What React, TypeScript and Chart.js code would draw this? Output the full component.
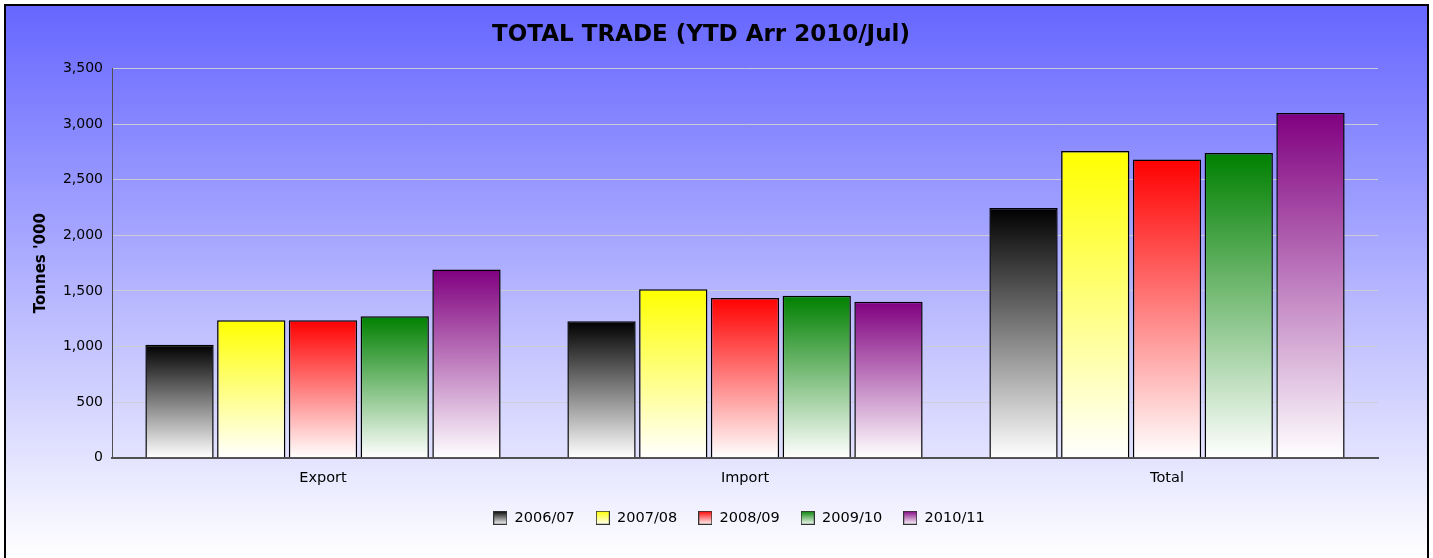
import React, { useEffect, useRef } from 'react';
import { Chart, registerables } from 'chart.js';

Chart.register(...registerables);

const categories = ['Export', 'Import', 'Total'];
const seriesLabels = ['2006/07', '2007/08', '2008/09', '2009/10', '2010/11'];
const values0607 = [1017, 1227, 2246];
const values0708 = [1236, 1515, 2758];
const values0809 = [1236, 1437, 2682];
const values0910 = [1272, 1458, 2740];
const values1011 = [1693, 1404, 3100];
const seriesValues = [values0607, values0708, values0809, values0910, values1011];
const seriesColors = ['#000000', '#ffff00', '#ff0000', '#008000', '#800080'];
const yMin = 0;
const yMax = 3500;
const yStep = 500;
const titleText = 'TOTAL TRADE (YTD Arr 2010/Jul)';
const yTitleText = "Tonnes '000";

const FONT = "'DejaVu Sans', Verdana, sans-serif";

const backgroundPlugin = {
  id: 'pageBackground',
  beforeDraw(chart: any) {
    const { ctx, width, height } = chart;
    ctx.save();
    ctx.fillStyle = '#ffffff';
    ctx.fillRect(0, 0, width, height);
    const g = ctx.createLinearGradient(0, 6, 0, height);
    g.addColorStop(0, '#6666ff');
    g.addColorStop(1, '#ffffff');
    ctx.fillStyle = g;
    ctx.fillRect(6, 6, width - 12, height - 6);
    ctx.strokeStyle = '#000000';
    ctx.lineWidth = 2;
    ctx.strokeRect(5, 5, width - 10, height + 10);
    ctx.restore();
  },
};

// the reference's legend sits a little right of the chart's centre
const legendShiftPlugin = {
  id: 'legendShift',
  afterLayout(chart: any) {
    const lg = chart.legend;
    if (lg) {
      lg.left += 38;
      lg.right += 38;
    }
  },
};

function makeLegendIcon(color: string): HTMLCanvasElement {
  const c = document.createElement('canvas');
  c.width = 14;
  c.height = 14;
  const x = c.getContext('2d')!;
  const g = x.createLinearGradient(0, 0, 0, 14);
  g.addColorStop(0, color);
  g.addColorStop(1, '#ffffff');
  x.fillStyle = g;
  x.fillRect(0, 0, 14, 14);
  x.strokeStyle = '#333333';
  x.lineWidth = 1;
  x.strokeRect(0.5, 0.5, 13, 13);
  return c;
}

export default function App() {
  const canvasRef = useRef<HTMLCanvasElement | null>(null);

  useEffect(() => {
    if (!canvasRef.current) return;
    const icons = seriesColors.map(makeLegendIcon);

    const datasets = seriesLabels.map((label, i) => {
      const color = seriesColors[i];
      return {
        label,
        data: seriesValues[i],
        borderColor: '#000000',
        borderWidth: 1.5,
        categoryPercentage: 0.85,
        barPercentage: 0.952,
        backgroundColor: (ctx: any) => {
          const chart = ctx.chart;
          const yScale = chart.scales?.y;
          if (!chart.chartArea || !yScale || ctx.type !== 'data') return color;
          const v = ctx.parsed ? ctx.parsed.y : ctx.raw;
          const top = yScale.getPixelForValue(v);
          const bottom = yScale.getPixelForValue(0);
          if (!isFinite(top) || !isFinite(bottom) || top === bottom) return color;
          const g = chart.ctx.createLinearGradient(0, top, 0, bottom);
          g.addColorStop(0, color);
          g.addColorStop(1, '#ffffff');
          return g;
        },
      };
    });

    const chart = new Chart(canvasRef.current, {
      type: 'bar',
      data: { labels: categories, datasets },
      plugins: [backgroundPlugin, legendShiftPlugin],
      options: {
        responsive: false,
        maintainAspectRatio: false,
        animation: false,
        devicePixelRatio: 1,
        layout: { padding: { top: 8, left: 24, right: 55, bottom: 23 } },
        plugins: {
          tooltip: { enabled: false },
          title: {
            display: true,
            text: titleText,
            color: '#000000',
            font: { family: FONT, size: 23, weight: 'bold' },
            padding: { top: 13, bottom: 20 },
          },
          legend: {
            position: 'bottom',
            labels: {
              color: '#000000',
              font: { family: FONT, size: 14.5 },
              padding: 21,
              boxWidth: 14,
              boxHeight: 14,
              usePointStyle: true,
              generateLabels: (chart: any) => {
                const base = (Chart.defaults.plugins.legend.labels as any).generateLabels(chart);
                return base.map((item: any) => ({ ...item, pointStyle: icons[item.datasetIndex] }));
              },
            },
          },
        },
        scales: {
          x: {
            grid: { display: false, drawTicks: false },
            border: { display: true, color: '#505050', width: 2 },
            ticks: { color: '#000000', font: { family: FONT, size: 14.5 }, padding: 12 },
            afterFit: (s: any) => {
              s.height = 31.7;
            },
          },
          y: {
            min: yMin,
            max: yMax,
            ticks: {
              stepSize: yStep,
              color: '#000000',
              font: { family: FONT, size: 14 },
              padding: 9,
              callback: (v: any) => Number(v).toLocaleString('en-US'),
            },
            grid: { color: 'rgba(205,205,215,0.95)', drawTicks: false, lineWidth: 1 },
            border: { display: true, color: '#505050', width: 1 },
            title: {
              display: true,
              text: yTitleText,
              color: '#000000',
              font: { family: FONT, size: 15, weight: 'bold' },
              padding: { top: 8, bottom: 0 },
            },
            afterFit: (s: any) => {
              s.width = 88;
            },
          },
        },
      } as any,
    });

    return () => {
      chart.destroy();
    };
  }, []);

  return (
    <div style={{ position: 'absolute', left: 0, top: 0, width: 1433, height: 558 }}>
      <canvas ref={canvasRef} width={1433} height={558} style={{ display: 'block', width: 1433, height: 558 }} />
    </div>
  );
}
